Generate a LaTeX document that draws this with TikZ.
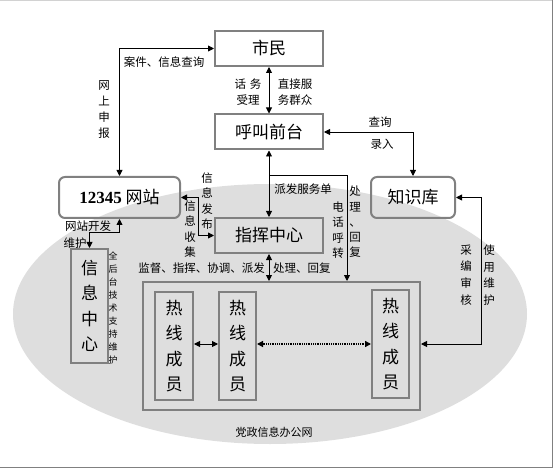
\documentclass[tikz,border=0pt]{standalone}
\usepackage{fontspec}
\setmainfont{Noto Sans CJK SC}
\newfontfamily\numfont{Liberation Serif}
\usetikzlibrary{arrows.meta,calc}
\definecolor{boxgray}{RGB}{128,128,128}
\definecolor{ellgray}{RGB}{222,222,222}
\begin{document}
\begin{tikzpicture}[x=1pt,y=-1pt,
  box/.style={draw=boxgray, line width=2pt, inner sep=0pt, align=center},
  rbox/.style={box, rounded corners=6pt},
  big/.style={font=\fontsize{17}{25.3}\selectfont},
  con/.style={line width=0.9pt, {Triangle[length=6pt,width=6pt]}-{Triangle[length=6pt,width=6pt]}},
  con1/.style={line width=0.9pt, -{Triangle[length=6pt,width=6pt]}},
  lab/.style={font=\fontsize{11.5}{15.5}\selectfont, inner sep=0pt, align=center},
  tiny/.style={font=\fontsize{9}{13}\selectfont, inner sep=0pt, align=center}]
\useasboundingbox (0,0) rectangle (559,470);
\draw[gray!35] (0,0.5) -- (552,0.5);
\draw[gray] (552,0.5) -- (552,467) -- (0,467);
% network ellipse
\fill[ellgray] (270,314) ellipse [x radius=257, y radius=130];
% nodes
\node[box, big, minimum width=108, minimum height=35] (shimin) at (269,48.5) {市民};
\node[box, big, minimum width=108, minimum height=35] (hujiao) at (269,132) {呼叫前台};
\node[box, big, minimum width=108, minimum height=35] (zhihui) at (269,235.5) {指挥中心};
\node[rbox, big, minimum width=121, minimum height=41] (wangzhan) at (119.5,197.5) {{\numfont\bfseries 12345} 网站};
\node[rbox, big, minimum width=84, minimum height=41] (zhishi) at (413,197.5) {知识库};
\node[box, big, minimum width=37, minimum height=114] (xinxi) at (89.5,306) {信\\息\\中\\心};
\node[box, minimum width=277, minimum height=128] (rexian) at (281.5,346) {};
\node[box, big, minimum width=38, minimum height=108] (rx1) at (174,346) {热\\线\\成\\员};
\node[box, big, minimum width=37, minimum height=108] (rx2) at (237.5,346) {热\\线\\成\\员};
\node[box, big, minimum width=37, minimum height=108] (rx3) at (390.5,344) {热\\线\\成\\员};
% helper coordinates
\coordinate (br) at (269,175);
\coordinate (px) at (347,0);
% connectors
\draw[con] (wangzhan.north) |- (shimin.west);
\draw[con] (shimin) -- (hujiao);
\draw[con] (hujiao.east) -| (zhishi.north);
\draw[con] (hujiao) -- (zhihui);
\draw[con1] (br) -| (px |- rexian.north);
\draw[con] (wangzhan.east) -- ++(17,0) |- (zhihui.west);
\draw[con] (zhihui) -- (zhihui |- rexian.north);
\draw[con] (wangzhan.south) -- ++(0,13) -| (xinxi.north);
\draw[con] (rx1.east |- 0,344) -- (rx2.west |- 0,344);
\draw[con, dash pattern=on 1pt off 0.8pt, line width=1.3pt] (rx2.east |- rx3) -- (rx3.west);
\draw[con] (zhishi.east) -- ++(25,0) |- (rexian.east |- rx3);
% labels
\node[lab] (l1) at (164,62) {案件、信息查询};
\node[lab, font=\fontsize{11.5}{16}\selectfont] (l2) at (104,109) {网\\上\\申\\报};
\node[lab] (l3) at (248,92) {话\,\,务\\受理};
\node[lab] (l4) at (295,92) {直接服\\务群众};
\node[lab] (l5) at (380,122) {查询};
\node[lab] (l6) at (382,144) {录入};
\node[lab] (l7) at (303,189) {派发服务单};
\node[lab, font=\fontsize{11.5}{15.2}\selectfont] (l8) at (355,222) {处\\理\\、\\回\\复};
\node[lab] (l9) at (338,230) {电\\话\\呼\\转};
\node[lab, font=\fontsize{11.5}{15.3}\selectfont] (l10) at (207,201) {信\\息\\发\\布};
\node[lab] (l11) at (190,229) {信\\息\\收\\集};
\node[lab, anchor=east] (l12) at (265,268) {监督、指挥、协调、派发};
\node[lab, anchor=west] (l13) at (273,268) {处理、回复};
\node[lab] (l14) at (88,226) {网站开发};
\node[lab] (l15) at (75,243) {维护};
\node[tiny] (l16) at (113,308) {全\\后\\台\\技\\术\\支\\持\\维\\护};
\node[lab, font=\fontsize{11.5}{16.7}\selectfont] (l17) at (466,275) {采\\编\\审\\核};
\node[lab, font=\fontsize{11.5}{16.7}\selectfont] (l18) at (489,275) {使\\用\\维\\护};
\node[lab, font=\fontsize{11}{14}\selectfont] (l19) at (274,432) {党政信息办公网};
\end{tikzpicture}
\end{document}
